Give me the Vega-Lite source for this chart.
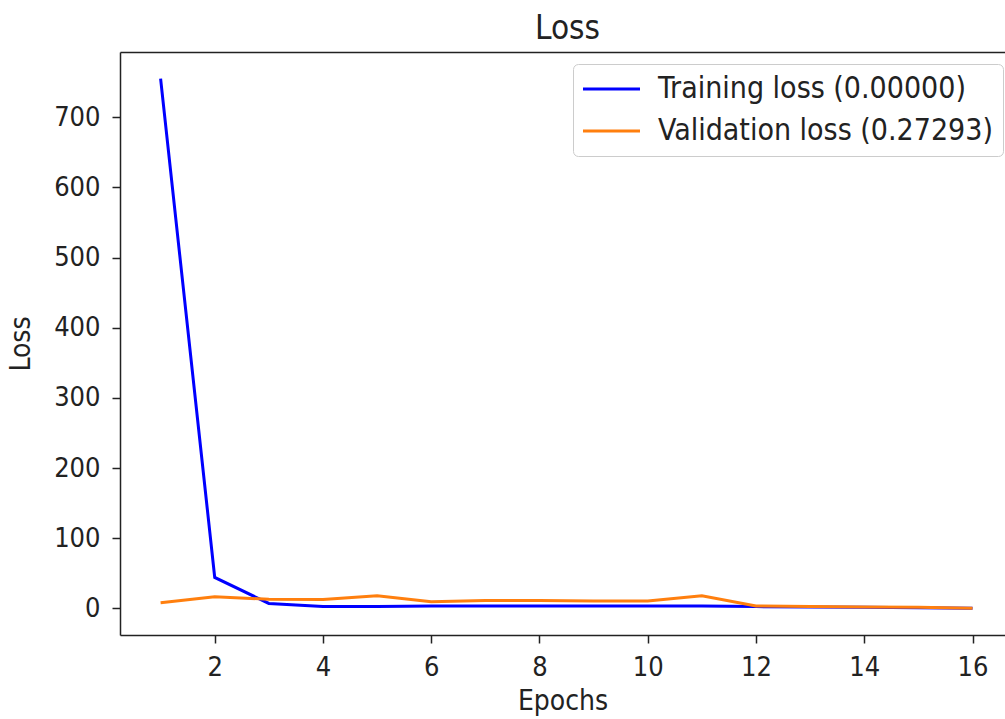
{
  "$schema": "https://vega.github.io/schema/vega-lite/v6.json",
  "width": 885,
  "height": 583,
  "autosize": {"type": "none"},
  "padding": {"left": 120, "top": 52, "right": 0, "bottom": 84},
  "background": "white",
  "title": {"text": "Loss", "fontSize": 33, "font": "DejaVu Sans Condensed", "fontWeight": "normal", "color": "#222", "offset": 6, "dx": 5},
  "data": {"values": [
    {"epoch": 1, "series": "Training loss (0.00000)", "loss": 755},
    {"epoch": 2, "series": "Training loss (0.00000)", "loss": 44},
    {"epoch": 3, "series": "Training loss (0.00000)", "loss": 7},
    {"epoch": 4, "series": "Training loss (0.00000)", "loss": 2.5},
    {"epoch": 5, "series": "Training loss (0.00000)", "loss": 2.5},
    {"epoch": 6, "series": "Training loss (0.00000)", "loss": 3.5},
    {"epoch": 7, "series": "Training loss (0.00000)", "loss": 3.5},
    {"epoch": 8, "series": "Training loss (0.00000)", "loss": 3.5},
    {"epoch": 9, "series": "Training loss (0.00000)", "loss": 3.5},
    {"epoch": 10, "series": "Training loss (0.00000)", "loss": 3.5},
    {"epoch": 11, "series": "Training loss (0.00000)", "loss": 3.5},
    {"epoch": 12, "series": "Training loss (0.00000)", "loss": 2.5},
    {"epoch": 13, "series": "Training loss (0.00000)", "loss": 2},
    {"epoch": 14, "series": "Training loss (0.00000)", "loss": 1.5},
    {"epoch": 15, "series": "Training loss (0.00000)", "loss": 1},
    {"epoch": 16, "series": "Training loss (0.00000)", "loss": 0},
    {"epoch": 1, "series": "Validation loss (0.27293)", "loss": 8},
    {"epoch": 2, "series": "Validation loss (0.27293)", "loss": 16.5},
    {"epoch": 3, "series": "Validation loss (0.27293)", "loss": 13},
    {"epoch": 4, "series": "Validation loss (0.27293)", "loss": 12.5},
    {"epoch": 5, "series": "Validation loss (0.27293)", "loss": 18},
    {"epoch": 6, "series": "Validation loss (0.27293)", "loss": 9.5},
    {"epoch": 7, "series": "Validation loss (0.27293)", "loss": 11},
    {"epoch": 8, "series": "Validation loss (0.27293)", "loss": 11},
    {"epoch": 9, "series": "Validation loss (0.27293)", "loss": 10.5},
    {"epoch": 10, "series": "Validation loss (0.27293)", "loss": 10.5},
    {"epoch": 11, "series": "Validation loss (0.27293)", "loss": 18},
    {"epoch": 12, "series": "Validation loss (0.27293)", "loss": 3.5},
    {"epoch": 13, "series": "Validation loss (0.27293)", "loss": 2.5},
    {"epoch": 14, "series": "Validation loss (0.27293)", "loss": 2},
    {"epoch": 15, "series": "Validation loss (0.27293)", "loss": 1.5},
    {"epoch": 16, "series": "Validation loss (0.27293)", "loss": 0.27293}
  ]},
  "layer": [
    {
      "mark": {"type": "line", "strokeWidth": 3, "clip": true},
      "encoding": {
        "x": {"field": "epoch", "type": "quantitative",
              "scale": {"domain": [0.25, 16.6], "nice": false, "zero": false},
              "axis": {"values": [2, 4, 6, 8, 10, 12, 14, 16], "format": "d", "title": "Epochs", "labelPadding": 11, "titlePadding": 7}},
        "y": {"field": "loss", "type": "quantitative",
              "scale": {"domain": [-38, 793], "nice": false, "zero": false},
              "axis": {"values": [0, 100, 200, 300, 400, 500, 600, 700], "format": "d", "title": "Loss", "labelPadding": 12, "titlePadding": 18}},
        "color": {"field": "series", "type": "nominal",
                  "scale": {"domain": ["Training loss (0.00000)", "Validation loss (0.27293)"], "range": ["#0000ff", "#ff7f0e"]},
                  "legend": {"title": null, "orient": "none", "legendX": 453, "legendY": 12}}
      }
    },
    {
      "mark": {"type": "line", "opacity": 0},
      "encoding": {
        "x": {"field": "epoch", "type": "quantitative",
              "axis": {"orient": "top", "labels": false, "ticks": false, "title": null, "domain": true}},
        "y": {"field": "loss", "type": "quantitative"},
        "detail": {"field": "series"}
      }
    }
  ],
  "resolve": {"axis": {"x": "independent"}},
  "config": {
    "view": {"stroke": null},
    "axis": {
      "grid": false,
      "domainColor": "#222", "domainWidth": 1.5,
      "tickColor": "#222", "tickWidth": 1.5, "tickSize": 8,
      "labelFont": "DejaVu Sans Condensed", "labelFontSize": 27, "labelColor": "#222", "labelPadding": 6,
      "titleFont": "DejaVu Sans Condensed", "titleFontSize": 28, "titleFontWeight": "normal", "titleColor": "#222"
    },
    "legend": {
      "symbolType": "M-3,0H8.4", "symbolStrokeWidth": 3, "symbolSize": 100,
      "labelOffset": 45, "padding": 10, "strokeColor": "#cccccc", "fillColor": "white", "cornerRadius": 5,
      "rowPadding": 12, "labelFont": "DejaVu Sans Condensed", "labelFontSize": 30, "labelColor": "#222", "labelLimit": 500
    }
  }
}
